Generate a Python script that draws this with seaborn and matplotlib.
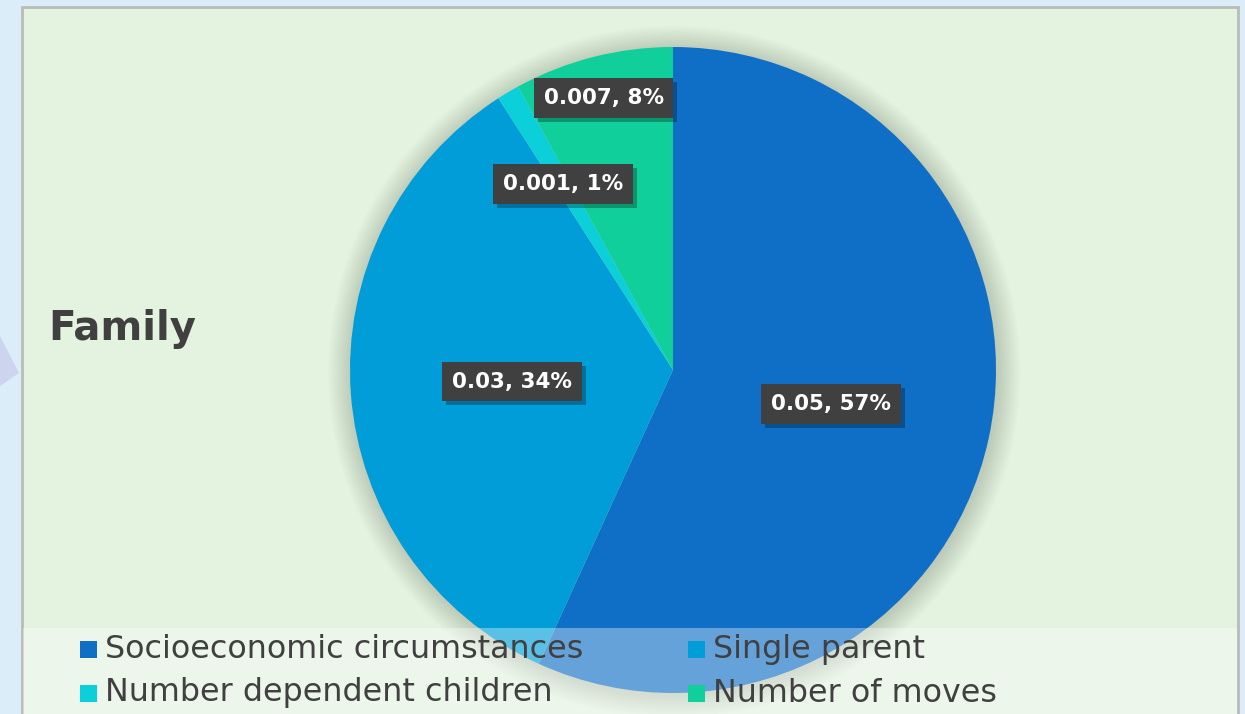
import numpy as np
import matplotlib
matplotlib.use("Agg")
import matplotlib.pyplot as plt
import matplotlib.patches as mpatches
import matplotlib.transforms as mtransforms
import seaborn as sns

# Family factors: contribution values
categories = ["Socioeconomic circumstances", "Single parent",
              "Number dependent children", "Number of moves"]
values = [0.05, 0.03, 0.001, 0.007]
title = "Family"

sns.set_style("white")
plt.rcParams["font.family"] = ["DejaVu Sans"]

colors = sns.color_palette(["#0f6fc6", "#009dd9", "#0bd0d9", "#10cf9b"])

W, H = 1245, 714
fig = plt.figure(figsize=(W / 100, H / 100), dpi=100)
fig.patch.set_facecolor("#daedf8")

# background layer in pixel coordinates
bg = fig.add_axes([0, 0, 1, 1], zorder=0)
bg.set_xlim(0, W)
bg.set_ylim(H, 0)
bg.axis("off")
bg.add_patch(mpatches.Polygon([[0, 336], [19, 373], [0, 386]], closed=True,
                              facecolor="#cdd5ee", edgecolor="none"))
bg.add_patch(mpatches.Rectangle((22, 7), 1216, 720, facecolor="#e4f2e0",
                                edgecolor="#b9bcb9", linewidth=2))
bg.text(48, 329, title, fontsize=29, fontweight="bold", color="#404040",
        ha="left", va="center")

# pie axes: centre (673, 370), radius 323 px
cx, cy, r = 673, 370, 323
lim = 1.2
ax = fig.add_axes([(cx - lim * r) / W, (H - cy - lim * r) / H,
                   2 * lim * r / W, 2 * lim * r / H], zorder=1)

wedges, _ = ax.pie(values, colors=colors, startangle=90, counterclock=False,
                   radius=1, wedgeprops=dict(linewidth=0))
ax.set_xlim(-lim, lim)
ax.set_ylim(-lim, lim)
ax.set_aspect("equal")
ax.axis("off")
ax.patch.set_alpha(0)
for w in wedges:
    w.set_zorder(2)

# soft shadow around the pie
for k in range(14):
    ax.add_patch(mpatches.Circle((0.004, -0.006), 1.0 + k * 0.0055,
                                 facecolor="#6f7a68", edgecolor="none",
                                 alpha=0.022, zorder=0))

total = sum(values)
label_radius = [0.5, 0.5, 0.67, 0.87]
labels = []
for w, v, lr in zip(wedges, values, label_radius):
    mid = np.deg2rad((w.theta1 + w.theta2) / 2)
    x, y = lr * np.cos(mid), lr * np.sin(mid)
    txt = f"{v:g}, {v / total * 100:.0f}%"
    labels.append(ax.text(x, y, txt, fontsize=15.5, fontweight="bold",
                          color="white", ha="center", va="center", zorder=4,
                          bbox=dict(boxstyle="square,pad=0.46",
                                    facecolor="#404040", edgecolor="none")))

# drop shadows behind the label boxes
fig.canvas.draw()
for t in labels:
    bb = t.get_bbox_patch().get_window_extent()
    ax.add_patch(mpatches.Rectangle((bb.x0 + 4, bb.y0 - 4), bb.width, bb.height,
                                    transform=mtransforms.IdentityTransform(),
                                    facecolor="#000000", edgecolor="none",
                                    alpha=0.28, zorder=3))

# legend band overlay
ov = fig.add_axes([0, 0, 1, 1], zorder=2)
ov.set_xlim(0, W)
ov.set_ylim(H, 0)
ov.axis("off")
ov.patch.set_alpha(0)
ov.add_patch(mpatches.Rectangle((23, 628), 1214, 90, facecolor="white",
                                edgecolor="none", alpha=0.36))
legend_pos = [(80, 649.5), (688, 649.5), (80, 693), (688, 693)]
for (lx, ly), name, c in zip(legend_pos, categories, colors):
    ov.add_patch(mpatches.Rectangle((lx, ly - 8.5), 17, 17, facecolor=c,
                                    edgecolor="none"))
    ov.text(lx + 25, ly, name, fontsize=22.9, color="#404040",
            ha="left", va="center")

fig.savefig("out.png", dpi=100, facecolor=fig.get_facecolor())
